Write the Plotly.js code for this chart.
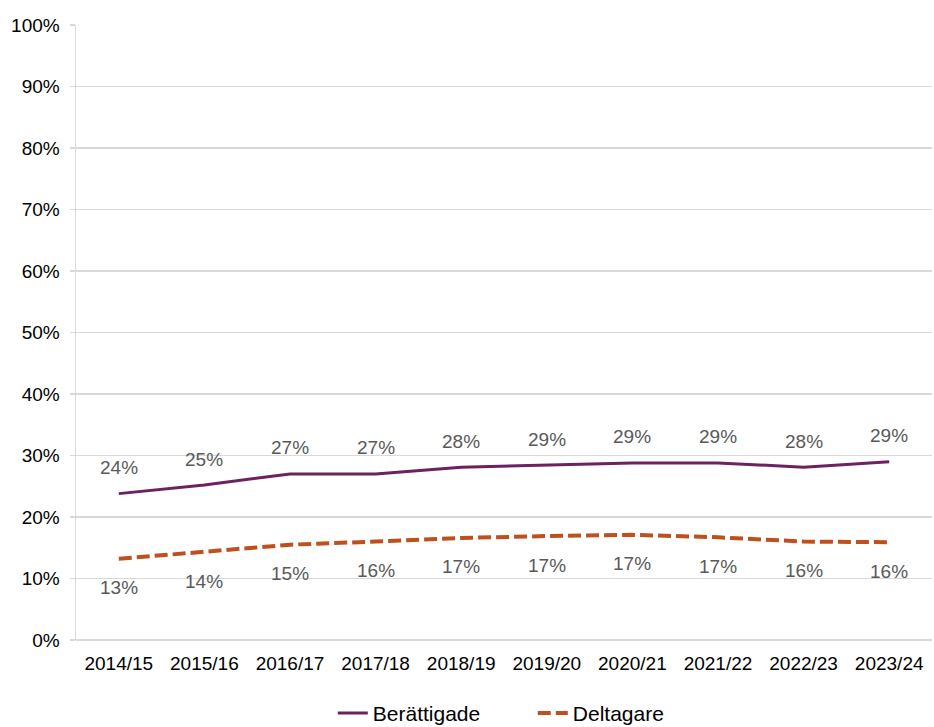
<!DOCTYPE html>
<html><head><meta charset="utf-8">
<script src="https://cdn.plot.ly/plotly-3.0.1.min.js"></script>
<style>html,body{margin:0;padding:0;background:#fff}#chart{width:934px;height:727px}</style>
</head><body><div id="chart"></div>
<script>
const categories = ["2014/15","2015/16","2016/17","2017/18","2018/19","2019/20","2020/21","2021/22","2022/23","2023/24"];
const berattigade = [0.238,0.252,0.270,0.270,0.281,0.284,0.288,0.288,0.281,0.290];
const deltagare = [0.132,0.143,0.155,0.160,0.166,0.169,0.171,0.167,0.160,0.159];
const berattigadeLabels = ["24%","25%","27%","27%","28%","29%","29%","29%","28%","29%"];
const deltagareLabels = ["13%","14%","15%","16%","17%","17%","17%","17%","16%","16%"];
const yTicks = [0,0.1,0.2,0.3,0.4,0.5,0.6,0.7,0.8,0.9,1.0];
const yTickText = ["0%","10%","20%","30%","40%","50%","60%","70%","80%","90%","100%"];

const FONT = "Liberation Sans, Arial, sans-serif";
const traces = [
  {x: categories, y: berattigade, name: "Berättigade", type: "scatter", mode: "lines",
   line: {color: "#6D2160", width: 3}},
  {x: categories, y: deltagare, name: "Deltagare", type: "scatter", mode: "lines",
   line: {color: "#C04F1E", width: 4, dash: "13px,5px"}}
];
const annotations = [];
categories.forEach((c, i) => {
  annotations.push({x: c, y: berattigade[i], text: berattigadeLabels[i], showarrow: false,
    yshift: 26, font: {family: FONT, size: 19, color: "#595959"}});
  annotations.push({x: c, y: deltagare[i], text: deltagareLabels[i], showarrow: false,
    yshift: -29, font: {family: FONT, size: 19, color: "#595959"}});
});
const layout = {
  width: 934, height: 727,
  margin: {l: 76, r: 2, t: 25, b: 86.5, pad: 0, autoexpand: false},
  paper_bgcolor: "#fff", plot_bgcolor: "#fff",
  font: {family: FONT, size: 19, color: "#000"},
  showlegend: true,
  legend: {orientation: "h", x: 0.30, xanchor: "left", y: -0.086, yanchor: "top",
    font: {family: FONT, size: 21, color: "#000"}, itemwidth: 30, tracegroupgap: 0,
    entrywidth: 155, entrywidthmode: "pixels"},
  xaxis: {type: "category", range: [-0.5, 9.5], showgrid: false, showline: false, zeroline: false,
    automargin: false, ticks: "", ticklabelstandoff: 10,
    tickfont: {family: FONT, size: 19, color: "#000"}, fixedrange: true},
  yaxis: {range: [0, 1], tickvals: yTicks, ticktext: yTickText, showgrid: true, automargin: false,
    gridcolor: "#D9D9D9", gridwidth: 1.5, showline: true, linecolor: "#D9D9D9", linewidth: 1.5,
    zeroline: true, zerolinecolor: "#D9D9D9", zerolinewidth: 1.5,
    ticks: "outside", ticklen: 5, tickcolor: "#D9D9D9", tickwidth: 1.5,
    ticklabelstandoff: 6, tickfont: {family: FONT, size: 19, color: "#000"}, fixedrange: true},
  annotations: annotations
};
Plotly.newPlot("chart", traces, layout, {displayModeBar: false, staticPlot: true});
</script></body></html>
